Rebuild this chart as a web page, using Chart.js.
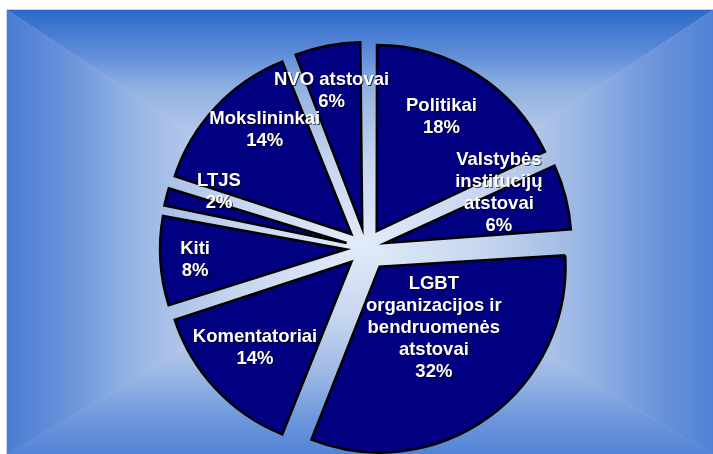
<!DOCTYPE html>
<html><head><meta charset="utf-8">
<script src="https://cdn.jsdelivr.net/npm/chart.js@4.4.0/dist/chart.umd.min.js"></script>
<style>html,body{margin:0;padding:0;background:#fff;overflow:hidden}</style>
</head><body>
<canvas id="c" width="713" height="454" style="display:block;width:713px;height:454px"></canvas>
<script>
// ---- data ----
const categories = [
  ["Politikai"],
  ["Valstybės", "institucijų", "atstovai"],
  ["LGBT", "organizacijos ir", "bendruomenės", "atstovai"],
  ["Komentatoriai"],
  ["Kiti"],
  ["LTJS"],
  ["Mokslininkai"],
  ["NVO atstovai"]
];
const shares = [18, 6, 32, 14, 8, 2, 14, 6];
const percentLabels = shares.map(v => v + "%");

// ---- layout / style ----
const R = 186;
const explode = [20, 20, 23, 20, 20, 20, 20, 20];
const labelPlace = [
  {f: 0.705, da: -2.8}, {f: 0.667, da: -9.4}, {f: 0.44, da: -5.6}, {f: 0.694, da: 1.5},
  {f: 0.814, da: -0.6}, {f: 0.739, da: 7.4}, {f: 0.728, da: 7.0}, {f: 0.757, da: -1.8}
];

const bgPlugin = {
  id: 'bg',
  beforeDraw(chart) {
    const ctx = chart.ctx;
    ctx.save();
    ctx.fillStyle = '#ffffff';
    ctx.fillRect(0, 0, chart.width, chart.height);
    const L = 7, T = 10, Rr = 713, B = 454, cx = 360, cy = 245;
    const center = '#e2ebf8';
    const mids = ['#8fb0e2', '#a3bce5', '#c6d6f0'];
    const tris = [
      {pts: [[L, T], [Rr, T]], g: [cx, T, cx, cy], edge: '#2a6acc', e2: '#5e8bd8'},
      {pts: [[Rr, T], [Rr, B]], g: [Rr, cy, cx, cy], edge: '#4f82d5', e2: '#6f97dc'},
      {pts: [[Rr, B], [L, B]], g: [cx, B, cx, cy], edge: '#5284d6', e2: '#7099dc'},
      {pts: [[L, B], [L, T]], g: [L, cy, cx, cy], edge: '#4a7cd2', e2: '#6c94da'}
    ];
    tris.forEach(t => {
      ctx.beginPath();
      ctx.moveTo(t.pts[0][0], t.pts[0][1]);
      ctx.lineTo(t.pts[1][0], t.pts[1][1]);
      ctx.lineTo(cx, cy);
      ctx.closePath();
      const gr = ctx.createLinearGradient(t.g[0], t.g[1], t.g[2], t.g[3]);
      gr.addColorStop(0, t.edge);
      gr.addColorStop(0.18, t.e2);
      gr.addColorStop(0.33, mids[0]);
      gr.addColorStop(0.42, mids[1]);
      gr.addColorStop(0.65, mids[2]);
      gr.addColorStop(1, center);
      ctx.fillStyle = gr;
      ctx.fill();
      ctx.strokeStyle = gr;
      ctx.lineWidth = 0.6;
      ctx.stroke();
    });
    ctx.restore();
  }
};

const radiusFixPlugin = {
  id: 'radiusFix',
  afterDatasetsUpdate(chart) {
    const meta = chart.getDatasetMeta(0);
    meta.data.forEach((arc, i) => {
      const o = explode[i];
      const circ = arc.endAngle - arc.startAngle;
      const fix = 1 - Math.sin(Math.min(Math.PI, circ));
      arc.outerRadius = R - o * fix;
    });
  }
};

const labelPlugin = {
  id: 'sliceLabels',
  afterDatasetsDraw(chart) {
    const ctx = chart.ctx;
    const meta = chart.getDatasetMeta(0);
    ctx.save();
    ctx.font = 'bold 18.5px "Liberation Sans", Arial, sans-serif';
    ctx.textAlign = 'center';
    ctx.textBaseline = 'middle';
    ctx.fillStyle = '#ffffff';
    ctx.shadowColor = 'rgba(0,0,0,0.7)';
    ctx.shadowOffsetX = 1;
    ctx.shadowOffsetY = 1;
    ctx.shadowBlur = 0;
    meta.data.forEach((arc, i) => {
      const {x, y, startAngle, endAngle} = arc.getProps(['x', 'y', 'startAngle', 'endAngle'], true);
      const mid = (startAngle + endAngle) / 2;
      const o = explode[i];
      const ax = x + Math.cos(mid) * o, ay = y + Math.sin(mid) * o;
      const a = mid + labelPlace[i].da * Math.PI / 180;
      const r = R * labelPlace[i].f;
      const lx = ax + Math.cos(a) * r, ly = ay + Math.sin(a) * r;
      const lines = categories[i].concat([percentLabels[i]]);
      const lh = 22;
      lines.forEach((t, k) => ctx.fillText(t, lx, ly + (k - (lines.length - 1) / 2) * lh));
    });
    ctx.restore();
  }
};

new Chart(document.getElementById('c'), {
  type: 'pie',
  data: {
    labels: categories.map(c => c.join(' ')),
    datasets: [{
      data: shares,
      backgroundColor: '#000080',
      borderColor: '#000000',
      borderWidth: 2.5,
      borderJoinStyle: 'miter',
      offset: explode.map(v => v * 4),
      hoverOffset: 0
    }]
  },
  options: {
    responsive: false,
    animation: false,
    devicePixelRatio: 1,
    radius: R,
    events: [],
    layout: {padding: {left: 19, top: 42, right: 0, bottom: 0}},
    plugins: {legend: {display: false}, tooltip: {enabled: false}}
  },
  plugins: [bgPlugin, radiusFixPlugin, labelPlugin]
});
</script>
</body></html>
